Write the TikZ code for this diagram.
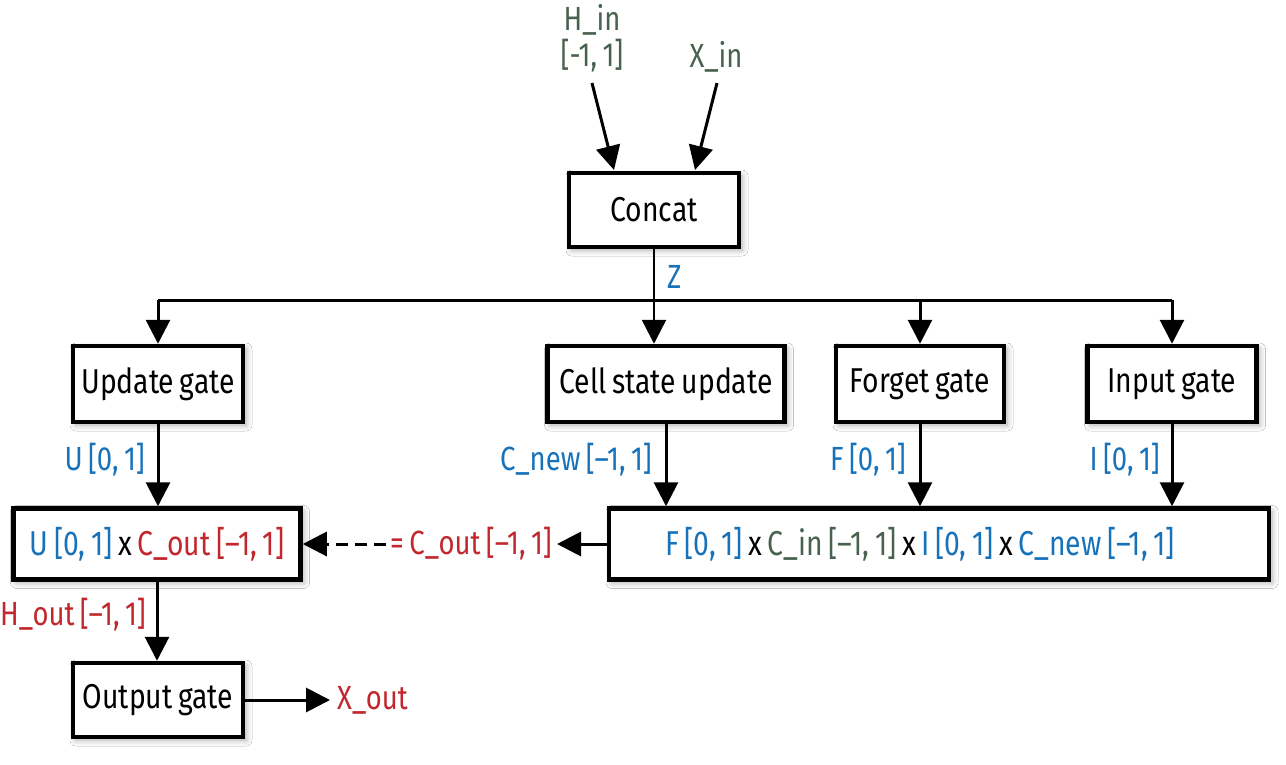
\documentclass[tikz,border=0pt]{standalone}
\usepackage{fontspec}
\setmainfont{Fira Sans}[FakeStretch=0.82, WordSpace=0.75]
\usetikzlibrary{arrows.meta,shadows.blur}
\definecolor{cblue}{RGB}{24,114,186}
\definecolor{cred}{RGB}{193,39,45}
\definecolor{cgreen}{RGB}{72,98,80}
\begin{document}
\begin{tikzpicture}[x=1pt,y=-1pt,
  box/.style={draw=black, line width=4.5pt, fill=white, inner sep=0pt,
    font=\fontsize{34.5}{40}\selectfont,
    blur shadow={shadow xshift=3pt, shadow yshift=-3pt, shadow blur radius=6pt, shadow opacity=35}},
  conn/.style={line width=3pt, -{Triangle[length=24pt,width=24pt]}},
  lbl/.style={font=\fontsize{33.5}{37}\selectfont, inner sep=0pt}]
\useasboundingbox (0,0) rectangle (1286,764);
\fill[white] (0,0) rectangle (1286,764);

% boxes
\node[box, minimum width=170pt, minimum height=74pt] (concat) at (654,210) {Concat};
\node[box, minimum width=170pt, minimum height=76pt] (upd) at (158,384) {Update gate};
\node[box, minimum width=237pt, minimum height=76pt] (cell) at (666,384) {Cell state update};
\node[box, minimum width=168pt, minimum height=76pt] (forget) at (920,384) {Forget gate};
\node[box, minimum width=169pt, minimum height=76pt] (input) at (1172,384) {Input gate};
\node[box, minimum width=287pt, minimum height=71pt] (ucb) at (157,544)
  {{\color{cblue}U [0, 1]} x {\color{cred}C\_out [–1, 1]}};
\node[box, minimum width=660pt, minimum height=71pt] (big) at (939,544) {};
\node[inner sep=0pt, font=\fontsize{34.5}{40}\selectfont] (bigtxt) at (920,544)
  {{\color{cblue}F [0, 1]} x {\color{cgreen}C\_in [–1, 1]} x {\color{cblue}I [0, 1]} x {\color{cblue}C\_new [–1, 1]}};
\node[box, minimum width=170pt, minimum height=74pt] (outg) at (158,700) {Output gate};

% labels
\node[lbl, text=cgreen, align=center, font=\fontsize{33.5}{36}\selectfont] (hin) at (592,38) {H\_in\\{}[-1, 1]};
\node[lbl, text=cgreen] (xin) at (716,57) {X\_in};
\node[lbl, text=cblue, anchor=west] (z) at (667,277) {Z};
\node[lbl, text=cblue, anchor=east] (lu) at (145,460) {U [0, 1]};
\node[lbl, text=cblue, anchor=east] (lc) at (652,460) {C\_new [–1, 1]};
\node[lbl, text=cblue, anchor=east] (lf) at (906,460) {F [0, 1]};
\node[lbl, text=cblue, anchor=east] (li) at (1160,460) {I [0, 1]};
\node[lbl, text=cred, anchor=west] (eq) at (390,544) {= C\_out [–1, 1]};
\node[lbl, text=cred, anchor=east] (lh) at (146,615) {H\_out [–1, 1]};
\node[lbl, text=cred, anchor=west] (xout) at (337,700) {X\_out};

% input arrows
\coordinate (hinS) at (592,83);
\coordinate (xinS) at (717,83);
\coordinate (cH) at (614,170);
\coordinate (cX) at (695,170);
\draw[conn] (hinS) -- (cH);
\draw[conn] (xinS) -- (cX);

% bus
\coordinate (busL) at (158,300);
\coordinate (busR) at (1172,300);
\draw[line width=3pt] (busL) -- (busR);
\draw[conn] (busL) -- (upd.north);
\draw[conn] (busR) -- (input.north);
\draw[conn] (forget.north |- busR) -- (forget.north);
\draw[line width=2.5pt, -{Triangle[length=24pt,width=24pt]}] (concat.south) -- (concat.south |- cell.north);

% down arrows
\draw[conn] (upd.south) -- (upd.south |- ucb.north);
\draw[conn] (cell.south) -- (cell.south |- big.north);
\draw[conn] (forget.south) -- (forget.south |- big.north);
\draw[conn] (input.south) -- (input.south |- big.north);

% C_out
\draw[conn] (big.west) -- ([xshift=5pt]eq.east);
\draw[conn, dash pattern=on 12pt off 7pt] ([xshift=-4pt]eq.west) -- (ucb.east);

% output
\draw[conn] (ucb.south) -- (ucb.south |- outg.north);
\draw[conn] (outg.east) -- ([xshift=-7pt]xout.west);
\end{tikzpicture}
\end{document}
